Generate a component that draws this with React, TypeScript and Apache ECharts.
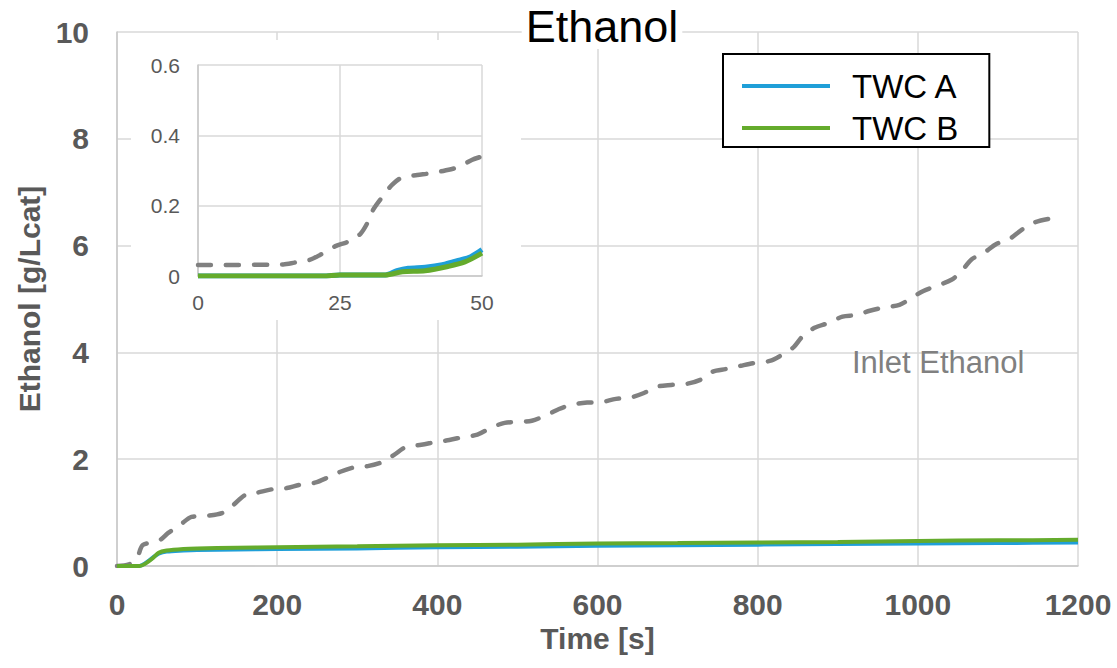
import React, { useEffect, useRef } from "react";
import * as echarts from "echarts";

// ---- Main chart data (time in s, ethanol in g/Lcat) ----
const inletTimeMain = [0, 15, 25, 32, 47, 55, 64, 79, 93, 112, 131, 145, 160, 174, 195, 212, 228, 247, 265, 278, 297, 313, 332, 346, 361, 380, 398, 415, 434, 450, 467, 484, 502, 518, 537, 552, 568, 587, 605, 623, 640, 658, 675, 692, 711, 729, 744, 761, 779, 795, 815, 830, 845, 856, 871, 888, 906, 923, 940, 957, 977, 992, 1007, 1024, 1042, 1054, 1067, 1083, 1098, 1113, 1130, 1145, 1163, 1180];
const inletMain = [0, 0.03, 0.15, 0.39, 0.45, 0.5, 0.62, 0.77, 0.92, 0.94, 0.99, 1.14, 1.33, 1.37, 1.44, 1.46, 1.52, 1.56, 1.67, 1.76, 1.85, 1.87, 1.95, 2.08, 2.23, 2.27, 2.32, 2.36, 2.42, 2.46, 2.59, 2.68, 2.7, 2.72, 2.83, 2.94, 3.02, 3.06, 3.07, 3.13, 3.15, 3.24, 3.36, 3.39, 3.41, 3.49, 3.64, 3.69, 3.75, 3.8, 3.84, 3.95, 4.1, 4.3, 4.46, 4.55, 4.67, 4.7, 4.78, 4.84, 4.89, 5.02, 5.15, 5.25, 5.36, 5.51, 5.74, 5.87, 6.03, 6.11, 6.3, 6.43, 6.5, 6.53];

const twcTimeMain = [0, 28, 35, 45, 52, 62, 83, 100, 150, 200, 300, 400, 500, 600, 700, 800, 900, 1000, 1100, 1200];
const twcAMain = [0, 0, 0.05, 0.16, 0.23, 0.27, 0.29, 0.3, 0.31, 0.32, 0.33, 0.35, 0.36, 0.38, 0.39, 0.4, 0.41, 0.42, 0.43, 0.44];
const twcBMain = [0, 0, 0.04, 0.15, 0.25, 0.29, 0.32, 0.33, 0.34, 0.35, 0.37, 0.39, 0.4, 0.42, 0.43, 0.44, 0.45, 0.47, 0.48, 0.49];

// ---- Inset data (first 50 s) ----
const inletTimeInset = [0, 15, 17, 19.5, 21.5, 24.2, 26.5, 28.6, 29.8, 30.9, 32.7, 34.2, 35.9, 38.6, 40.9, 43.5, 45.9, 48.2, 50];
const inletInset = [0.031, 0.033, 0.038, 0.045, 0.06, 0.085, 0.098, 0.12, 0.15, 0.19, 0.23, 0.26, 0.28, 0.287, 0.292, 0.3, 0.31, 0.33, 0.34];

const twcATimeInset = [0, 22, 25, 33, 35, 37, 40, 43, 46, 48, 50];
const twcAInset = [0, 0, 0.003, 0.003, 0.015, 0.022, 0.025, 0.032, 0.045, 0.055, 0.075];
const twcBTimeInset = [0, 22, 25, 33, 36, 40, 44, 47, 50];
const twcBInset = [0, 0, 0.003, 0.003, 0.012, 0.015, 0.027, 0.04, 0.065];

// ---- Axis ticks ----
const mainXTicks = { min: 0, max: 1200, interval: 200 };
const mainYTicks = { min: 0, max: 10, interval: 2 };
const insetXTicks = { min: 0, max: 50, interval: 25 };
const insetYTicks = { min: 0, max: 0.6, interval: 0.2 };

const seriesNames = ["TWC A", "TWC B"];

const zip = (t: number[], v: number[]) => t.map((x, i) => [x, v[i]]);

const FONT = "'Liberation Sans', Arial, Helvetica, sans-serif";
const BLUE = "#1F9FD8";
const GREEN = "#64AB2C";
const GRAY = "#808080";
const LABEL = "#595959";
const GRID = "#D9D9D9";

export default function App() {
  const ref = useRef<HTMLDivElement>(null);

  useEffect(() => {
    if (!ref.current) return;
    const chart = echarts.init(ref.current, null, { renderer: "svg" });

    const splitLine = { show: true, lineStyle: { color: GRID, width: 1.5 } };
    const axisLine = { show: true, lineStyle: { color: "#C8C8C8", width: 1.5 } };
    const plain = (v: number) => String(v);

    chart.setOption({
      animation: false,
      backgroundColor: "#fff",
      title: {
        text: "Ethanol",
        left: 598,
        top: 3,
        textAlign: "center",
        backgroundColor: "#fff",
        padding: [0, 4, 0, 4],
        textStyle: { fontSize: 45, lineHeight: 46, fontWeight: "normal", color: "#000", fontFamily: FONT },
      },
      legend: {
        data: seriesNames,
        orient: "vertical",
        left: 723,
        top: 54,
        icon: "rect",
        itemWidth: 88,
        itemHeight: 4,
        itemGap: 8,
        backgroundColor: "#fff",
        borderColor: "#000",
        borderWidth: 2,
        borderRadius: 0,
        padding: [15, 31, 2, 19],
        textStyle: { fontSize: 33, color: "#000", fontFamily: FONT, lineHeight: 34, padding: [0, 0, 0, 17] },
      },
      grid: [
        { left: 117, top: 32, width: 961, height: 534, containLabel: false },
        { left: 198, top: 65, width: 284, height: 211, containLabel: false },
      ],
      graphic: [
        {
          type: "rect",
          z: 1,
          shape: { x: 131, y: 40, width: 390, height: 280 },
          style: { fill: "#fff" },
        },
        {
          type: "text",
          z: 5,
          left: 852,
          top: 347,
          style: { text: "Inlet Ethanol", fontSize: 31, fill: GRAY, fontFamily: FONT },
        },
      ],
      xAxis: [
        {
          type: "value",
          gridIndex: 0,
          ...mainXTicks,
          name: "Time [s]",
          nameLocation: "middle",
          nameGap: 57,
          nameTextStyle: { fontSize: 30, fontWeight: "bold", color: LABEL, fontFamily: FONT },
          axisLine,
          axisTick: { show: false },
          splitLine,
          axisLabel: { fontSize: 30, fontWeight: "bold", color: LABEL, fontFamily: FONT, margin: 23, formatter: plain },
          z: 0,
        },
        {
          type: "value",
          gridIndex: 1,
          ...insetXTicks,
          axisLine,
          axisTick: { show: false },
          splitLine,
          axisLabel: { fontSize: 21, color: LABEL, fontFamily: FONT, margin: 16, formatter: plain },
          z: 3,
        },
      ],
      yAxis: [
        {
          type: "value",
          gridIndex: 0,
          ...mainYTicks,
          name: "Ethanol [g/Lcat]",
          nameLocation: "middle",
          nameGap: 72,
          nameTextStyle: { fontSize: 30, fontWeight: "bold", color: LABEL, fontFamily: FONT },
          axisLine,
          axisTick: { show: false },
          splitLine,
          axisLabel: { fontSize: 30, fontWeight: "bold", color: LABEL, fontFamily: FONT, margin: 28, formatter: plain },
          z: 0,
        },
        {
          type: "value",
          gridIndex: 1,
          ...insetYTicks,
          axisLine,
          axisTick: { show: false },
          splitLine,
          axisLabel: { fontSize: 21, color: LABEL, fontFamily: FONT, margin: 18, formatter: (v: number) => (v === 0 ? "0" : v.toFixed(1)) },
          z: 3,
        },
      ],
      series: [
        {
          name: "Inlet Ethanol",
          type: "line",
          xAxisIndex: 0,
          yAxisIndex: 0,
          data: zip(inletTimeMain, inletMain),
          showSymbol: false,
          smooth: 0.3,
          color: GRAY,
          lineStyle: { color: GRAY, width: 4.5, type: [13, 15], cap: "round" },
          z: 2,
        },
        {
          name: "TWC A",
          type: "line",
          xAxisIndex: 0,
          yAxisIndex: 0,
          data: zip(twcTimeMain, twcAMain),
          showSymbol: false,
          smooth: 0.3,
          color: BLUE,
          lineStyle: { color: BLUE, width: 4 },
          z: 2,
        },
        {
          name: "TWC B",
          type: "line",
          xAxisIndex: 0,
          yAxisIndex: 0,
          data: zip(twcTimeMain, twcBMain),
          showSymbol: false,
          smooth: 0.3,
          color: GREEN,
          lineStyle: { color: GREEN, width: 4 },
          z: 2,
        },
        {
          name: "Inlet Ethanol (inset)",
          type: "line",
          xAxisIndex: 1,
          yAxisIndex: 1,
          data: zip(inletTimeInset, inletInset),
          showSymbol: false,
          smooth: 0.3,
          color: GRAY,
          lineStyle: { color: GRAY, width: 4.5, type: [13, 15], cap: "round" },
          z: 4,
        },
        {
          name: "TWC A",
          type: "line",
          xAxisIndex: 1,
          yAxisIndex: 1,
          data: zip(twcATimeInset, twcAInset),
          showSymbol: false,
          smooth: 0.3,
          color: BLUE,
          lineStyle: { color: BLUE, width: 5 },
          z: 4,
        },
        {
          name: "TWC B",
          type: "line",
          xAxisIndex: 1,
          yAxisIndex: 1,
          data: zip(twcBTimeInset, twcBInset),
          showSymbol: false,
          smooth: 0.3,
          color: GREEN,
          lineStyle: { color: GREEN, width: 5 },
          z: 4,
        },
      ],
    });

    return () => chart.dispose();
  }, []);

  return (
    <div
      ref={ref}
      style={{ position: "fixed", left: 0, top: 0, width: 1117, height: 668, background: "#fff" }}
    />
  );
}
